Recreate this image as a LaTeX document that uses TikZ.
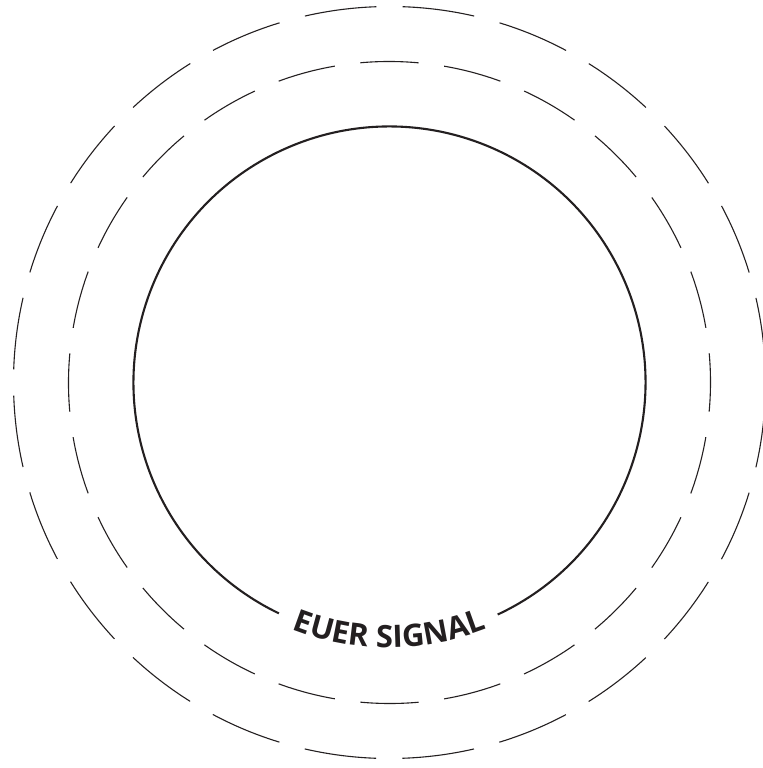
\documentclass[tikz,border=0pt]{standalone}
\usepackage{fontspec}
\setmainfont{Open Sans}
\usetikzlibrary{decorations.text}
\definecolor{ink}{HTML}{231F20}
\tikzset{
  ringdash/.style={draw=ink, line width=1.1bp},
  ringsolid/.style={draw=ink, line width=2.1bp},
}
\begin{document}
\begin{tikzpicture}[x=1bp,y=1bp]
\useasboundingbox (-389.5,-385.5) rectangle (373.5,382.5);
\coordinate (c) at (0,0);
% outer dashed ring
\draw[ringdash, dash pattern=on 72.19bp off 26.25bp] (c) ++(2:376) arc[start angle=2, end angle=362, radius=376];
% middle dashed ring
\draw[ringdash, dash pattern=on 58.27bp off 25.77bp] (c) ++(-5.2:321) arc[start angle=-5.2, end angle=354.8, radius=321];
% inner solid ring with gap for the label
\draw[ringsolid] (c) ++(-65:256) arc[start angle=-65, end angle=244.4, radius=256];
% label along the arc
\path[decorate, decoration={text along path, text align=center,
  text={|\fontsize{31}{35}\selectfont\bfseries\color{ink}|EUER SIGNAL}}]
  (c) ++(230:265) arc[start angle=230, end angle=310, radius=265];
\end{tikzpicture}
\end{document}
